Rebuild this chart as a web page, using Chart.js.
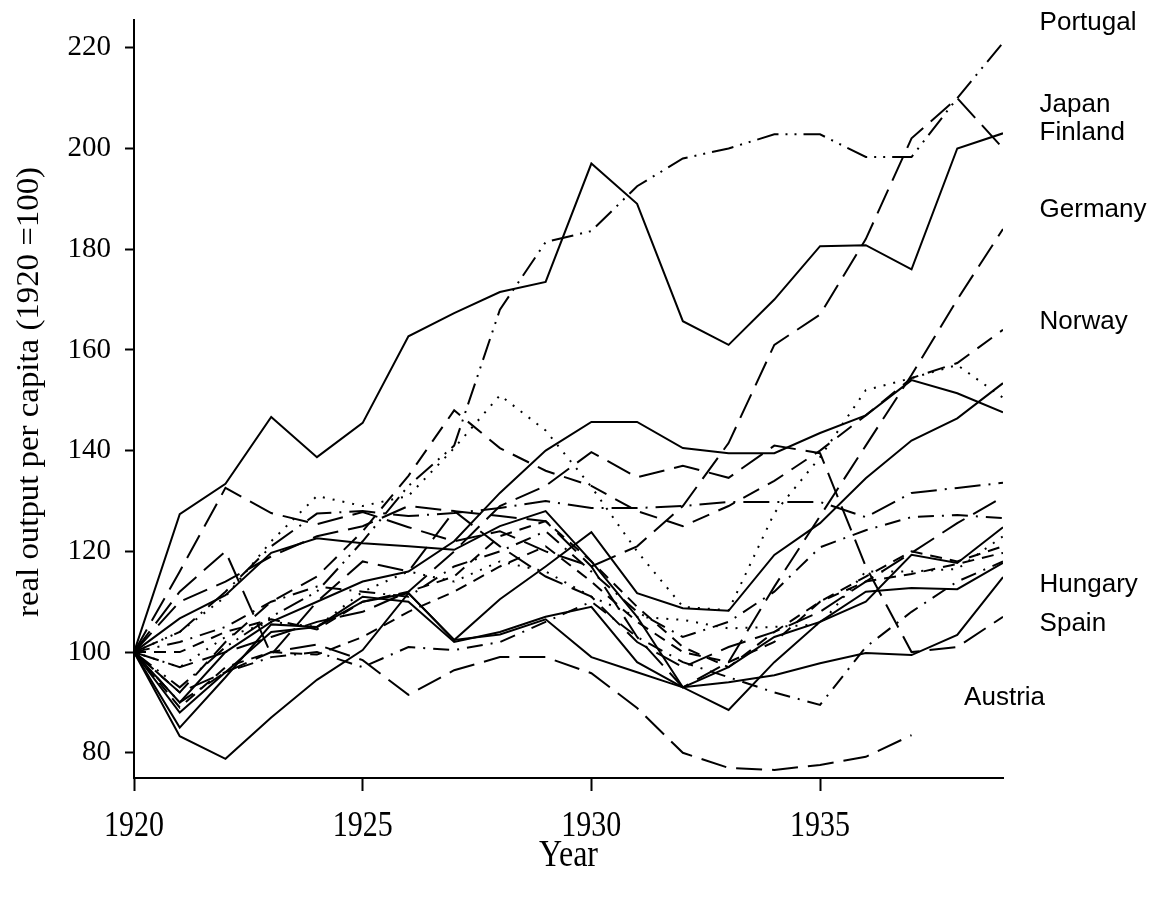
<!DOCTYPE html>
<html>
<head>
<meta charset="utf-8">
<script src="https://cdn.jsdelivr.net/npm/chart.js@4/dist/chart.umd.min.js"></script>
<style>
  html, body { margin: 0; padding: 0; background: #fff; }
  canvas { display: block; }
</style>
</head>
<body>
<canvas id="chart" width="1157" height="900"></canvas>
<script>
const years = [1920, 1921, 1922, 1923, 1924, 1925, 1926, 1927, 1928, 1929,
               1930, 1931, 1932, 1933, 1934, 1935, 1936, 1937, 1938, 1939];

const xTicks = [1920, 1925, 1930, 1935];
const yTicks = [80, 100, 120, 140, 160, 180, 200, 220];

// real output per capita, 1920 = 100
const portugal = [100, 93, 101, 107, 112, 122, 133, 141, 168, 181.4, 183.6, 192.5, 198, 200, 202.8, 202.8, 198.3, 198.3, 210, 221];
const japan    = [100, 116, 132.6, 127.6, 125.4, 127.8, 124.8, 122, 124, 120, 117, 121, 129, 141.5, 161, 167, 182, 202, 210, 200];
const finland  = [100, 127.4, 133.4, 146.7, 138.7, 145.5, 162.7, 167.3, 171.5, 173.5, 197, 189, 165.7, 161, 170, 180.6, 180.8, 176, 200, 203];
const germany  = [100, 112, 120, 99.5, 110, 118, 116, 128, 127, 126, 117, 103, 93, 98, 113, 127, 141, 155, 170, 184];
const norway   = [100, 92, 102, 110, 115, 124, 135, 148, 140.5, 136, 133, 128, 125, 129, 134, 140, 147, 154.4, 157.4, 164];
const hungary  = [100, 83.3, 78.8, 87, 94.5, 100.4, 111.7, 102.4, 103.5, 106.5, 99, 96, 93, 94, 95.4, 97.8, 99.8, 99.4, 103.4, 114.9];
const spain    = [100, 97, 100, 103, 106, 108, 112, 120, 129, 133, 139.7, 134.7, 137, 134.6, 141, 139.5, 117, 100, 101, 107];
const austria  = [100, 92, 96, 100, 101.5, 98.4, 91.5, 96.4, 99, 99, 95.8, 88.9, 80, 77, 76.6, 77.6, 79.2, 83.5];

// unlabelled countries
const other1  = [100, 88, 96, 104, 105, 110, 111.7, 102.4, 110.5, 117, 123.8, 111.7, 108.7, 108.2, 119.3, 125.6, 134.5, 142, 146.4, 153.4];
const other2  = [100, 104, 111, 122, 131, 129, 131, 140.5, 151, 144, 132.8, 120, 109, 108.3, 127.6, 138.7, 152, 154.4, 157, 150.5];
const other3  = [100, 90, 100, 106, 110, 114, 116, 122, 131.6, 140, 145.7, 145.7, 140.5, 139.5, 139.5, 143.5, 147, 154, 151.4, 147.6];
const other4  = [100, 104, 112, 121, 127.5, 128, 127, 127.6, 128.6, 130, 128.6, 128.6, 129, 129.8, 129.8, 129.8, 126.8, 131.6, 132.6, 133.6];
const other5  = [100, 110, 114, 119, 123, 125, 129, 128, 121, 115, 111, 102, 97, 101, 104, 108, 114, 119.7, 125.6, 130.8];
const other6  = [100, 102, 105, 110, 113, 112, 111, 117, 120, 124, 116, 108, 103, 106, 112, 120.8, 124.2, 126.8, 127.2, 126.6];
const other7  = [100, 106.7, 111.3, 119.7, 122.6, 121.6, 121, 120.3, 125, 128, 118, 107, 93, 88.5, 98, 106, 110, 119.3, 117.7, 124.8];
const other8  = [100, 97, 103, 106, 105, 112, 116, 114, 118, 116, 111, 107, 106.4, 104.7, 105, 105.5, 116, 116, 116.5, 123];
const other9  = [100, 89, 97, 100, 99.5, 103, 108, 112, 117, 121, 114, 106, 100, 98, 102, 110, 114, 115.5, 117.5, 119.7];
const other10 = [100, 85, 95, 105.5, 105, 111, 110, 102, 104, 107, 109, 98, 93, 97, 103, 106, 112, 112.7, 112.5, 117.7];
const other11 = [100, 90, 96, 99, 100, 97, 101, 100.4, 102, 106, 110, 103, 98, 95, 92, 89.5, 101, 108, 114, 118];
const other12 = [100, 100, 104, 106.5, 104.5, 110, 112, 115, 123, 126, 118, 109, 101, 97, 104, 110, 115, 120, 118, 121];

const labelNames  = ['Portugal', 'Japan', 'Finland', 'Germany', 'Norway', 'Hungary', 'Spain', 'Austria'];
const labelYears  = [1939.8, 1939.8, 1939.8, 1939.8, 1939.8, 1939.8, 1939.8, 1938.15];
const labelValues = [225, 208.6, 203, 187.8, 165.5, 113.3, 105.6, 90.9];

const yTitle = 'real output per capita (1920 =100)';
const xTitle = 'Year';
const SERIF = '"Liberation Serif", "Times New Roman", serif';

function line(values, dash) {
    return {
        data: values.map((v, i) => ({ x: years[i], y: v })),
        borderColor: '#000',
        borderWidth: 2,
        borderDash: dash,
        pointRadius: 0,
        fill: false,
        tension: 0
    };
}

const SOLID = [];
const LONGDASH = [26, 10];
const DASHED = [18, 10];
const SHORTDASH = [12, 8];
const DOTTED = [2, 8];
const DOTDASH = [16, 8, 2, 8];
const LONGDOTDASH = [26, 8, 2, 8];
const TWODOT = [22, 7, 2, 7, 2, 7];

const labelsPlugin = {
    id: 'countryLabels',
    afterDatasetsDraw(chart) {
        const ctx = chart.ctx;
        const xs = chart.scales.x, ys = chart.scales.y;
        ctx.save();
        ctx.fillStyle = '#000';
        ctx.font = '26px "Liberation Sans", Arial, sans-serif';
        ctx.textAlign = 'left';
        ctx.textBaseline = 'middle';
        labelNames.forEach((n, i) => {
            ctx.fillText(n, xs.getPixelForValue(labelYears[i]), ys.getPixelForValue(labelValues[i]));
        });
        ctx.restore();
    }
};

// serif text in the original is drawn a little tall, so stretch it
const axisTextPlugin = {
    id: 'axisText',
    afterDraw(chart) {
        const ctx = chart.ctx;
        const area = chart.chartArea;
        const xs = chart.scales.x;
        ctx.save();
        ctx.fillStyle = '#000';
        ctx.textAlign = 'center';
        ctx.textBaseline = 'middle';

        ctx.font = '30px ' + SERIF;
        xTicks.forEach(v => {
            ctx.save();
            ctx.translate(xs.getPixelForValue(v), area.bottom + 48);
            ctx.scale(1, 1.22);
            ctx.fillText(String(v), 0, 0);
            ctx.restore();
        });

        ctx.save();
        ctx.font = '32px ' + SERIF;
        ctx.translate((area.left + area.right) / 2, area.bottom + 78);
        ctx.scale(1, 1.2);
        ctx.fillText(xTitle, 0, 0);
        ctx.restore();

        ctx.save();
        ctx.translate(30, (area.top + area.bottom) / 2 - 7);
        ctx.rotate(-Math.PI / 2);
        ctx.font = '31px ' + SERIF;
        const w = ctx.measureText(yTitle).width;
        ctx.scale(450 / w, 1);
        ctx.fillText(yTitle, 0, 0);
        ctx.restore();

        ctx.restore();
    }
};

new Chart(document.getElementById('chart').getContext('2d'), {
    type: 'line',
    data: {
        datasets: [
            line(portugal, TWODOT),
            line(japan, LONGDASH),
            line(finland, SOLID),
            line(germany, LONGDASH),
            line(norway, DASHED),
            line(other1, SOLID),
            line(other2, DOTTED),
            line(other3, SOLID),
            line(other4, LONGDOTDASH),
            line(other5, LONGDASH),
            line(other6, DOTDASH),
            line(other7, SOLID),
            line(other8, DOTTED),
            line(other9, SHORTDASH),
            line(other10, SOLID),
            line(hungary, SOLID),
            line(spain, LONGDASH),
            line(other11, DOTDASH),
            line(austria, LONGDASH),
            line(other12, SHORTDASH)
        ]
    },
    options: {
        responsive: false,
        animation: false,
        layout: { padding: { left: 0, right: 154, top: 20, bottom: 0 } },
        plugins: {
            legend: { display: false },
            tooltip: { enabled: false },
            title: { display: false }
        },
        scales: {
            x: {
                type: 'linear',
                min: 1920,
                max: 1939,
                afterFit: s => {
                    s.height = 122;
                    s.paddingLeft = 0; s.paddingRight = 0;
                    s.paddingTop = 0; s.paddingBottom = 0;
                },
                afterBuildTicks: s => { s.ticks = xTicks.map(v => ({ value: v })); },
                border: { display: true, color: '#000', width: 2 },
                grid: { display: true, drawOnChartArea: false, drawTicks: true, tickLength: 13, tickWidth: 2, tickColor: '#000' },
                ticks: { display: false }
            },
            y: {
                type: 'linear',
                min: 75,
                max: 225.5,
                afterFit: s => {
                    s.width = 134;
                    s.paddingTop = 0; s.paddingBottom = 0;
                    s.paddingLeft = 0; s.paddingRight = 0;
                },
                afterBuildTicks: s => { s.ticks = yTicks.map(v => ({ value: v })); },
                border: { display: true, color: '#000', width: 2 },
                grid: { display: true, drawOnChartArea: false, drawTicks: true, tickLength: 9, tickWidth: 2, tickColor: '#000' },
                ticks: {
                    color: '#000',
                    padding: 14,
                    font: { family: SERIF, size: 29 }
                }
            }
        }
    },
    plugins: [labelsPlugin, axisTextPlugin]
});
</script>
</body>
</html>
